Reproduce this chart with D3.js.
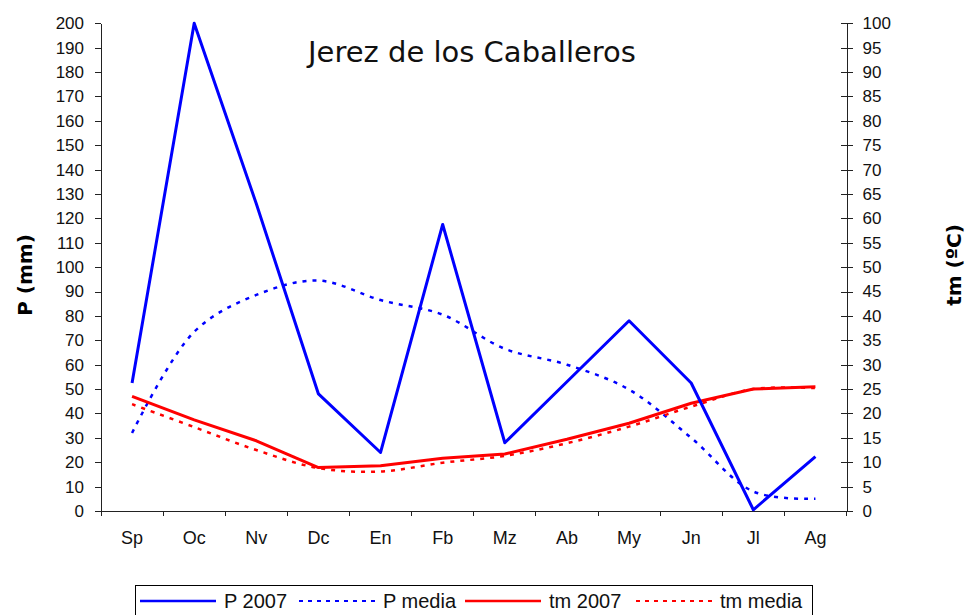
<!DOCTYPE html>
<html lang="es">
<head>
<meta charset="utf-8">
<title>Jerez de los Caballeros</title>
<style>
  body { margin: 0; background: #fff; }
  svg { display: block; font-family: "DejaVu Sans", Verdana, sans-serif; }
  .axis path, .axis line { stroke: #222; shape-rendering: crispEdges; }
  .axis text { font-size: 17px; fill: #111; }
  .xaxis text { font-size: 18px; }
  .legend text { font-family: "Liberation Sans", Arial, sans-serif; font-size: 20px; fill: #111; }
</style>
</head>
<body>
<div id="chart"></div>
<script src="https://cdn.jsdelivr.net/npm/d3@7"></script>
<script>
// months (hydrological year)
var months = ["Sp", "Oc", "Nv", "Dc", "En", "Fb", "Mz", "Ab", "My", "Jn", "Jl", "Ag"];

// precipitation, mm
var p2007  = [52.5, 200, 126, 48, 24, 117.5, 28, 53, 78, 52.5, 0.5, 22.3];
var pMedia = [32, 73.5, 88.6, 94.5, 86.5, 80.5, 66.5, 60, 49.8, 30, 8, 5];

// mean temperature, ºC
var tm2007  = [23.5, 18.7, 14.4, 8.9, 9.3, 10.8, 11.7, 14.7, 18, 22.1, 25, 25.5];
var tmMedia = [21.9, 17.2, 12.5, 8.8, 8.1, 9.9, 11.3, 13.9, 17.3, 21.4, 25, 25.2];

var pTicks = d3.range(0, 201, 10);
var tTicks = d3.range(0, 101, 5);

var width = 968, height = 615;
var plotLeft = 101, plotRight = 846.5, plotTop = 23.3, plotBottom = 511;

var svg = d3.select("#chart").append("svg")
    .attr("width", width)
    .attr("height", height);

var x = d3.scaleBand().domain(months).range([plotLeft, plotRight]);
var yP = d3.scaleLinear().domain([0, 200]).range([plotBottom, plotTop]);
var yT = d3.scaleLinear().domain([0, 100]).range([plotBottom, plotTop]);

// axes
svg.append("g")
    .attr("class", "axis")
    .attr("transform", "translate(" + plotLeft + ",0)")
    .call(d3.axisLeft(yP).tickValues(pTicks).tickSize(6).tickPadding(11).tickSizeOuter(0));

var rAxis = svg.append("g")
    .attr("class", "axis")
    .attr("transform", "translate(" + plotRight + ",0)")
    .call(d3.axisRight(yT).tickValues(tTicks).tickSize(6).tickPadding(10).tickSizeOuter(0));
rAxis.selectAll(".tick line").attr("x1", -6);

var xAxis = svg.append("g")
    .attr("class", "axis xaxis")
    .attr("transform", "translate(0," + plotBottom + ")")
    .call(d3.axisBottom(x).tickSize(0).tickPadding(20).tickSizeOuter(0));
xAxis.selectAll(".tick line").remove();
// category separators below the axis
xAxis.selectAll(".sep")
    .data(months.concat(["end"]))
  .enter().append("line")
    .attr("class", "sep")
    .attr("x1", function(d, i) { return plotLeft + i * x.step(); })
    .attr("x2", function(d, i) { return plotLeft + i * x.step(); })
    .attr("y1", 0).attr("y2", 5)
    .attr("stroke", "#222")
    .attr("shape-rendering", "crispEdges");

// series
var series = [
  { name: "P 2007",   values: p2007,   scale: yP, color: "#0000ff", dash: null,  width: 3,   smooth: false },
  { name: "P media",  values: pMedia,  scale: yP, color: "#0000ff", dash: "4,6", width: 2.5, smooth: true },
  { name: "tm 2007",  values: tm2007,  scale: yT, color: "#ff0000", dash: null,  width: 3,   smooth: false },
  { name: "tm media", values: tmMedia, scale: yT, color: "#ff0000", dash: "4,6", width: 2.5, smooth: true }
];

var cx = function(i) { return x(months[i]) + x.bandwidth() / 2; };

var drawOrder = [1, 3, 2, 0];
drawOrder.forEach(function(k) {
  var s = series[k];
  var line = d3.line()
      .x(function(d, i) { return cx(i); })
      .y(function(d) { return s.scale(d); })
      .curve(s.smooth ? d3.curveCatmullRom.alpha(0.5) : d3.curveLinear);
  svg.append("path")
      .datum(s.values)
      .attr("d", line)
      .attr("fill", "none")
      .attr("stroke", s.color)
      .attr("stroke-width", s.width)
      .attr("stroke-dasharray", s.dash)
      .attr("stroke-linejoin", "round");
});

// title and axis titles
svg.append("text")
    .attr("x", 472).attr("y", 62)
    .attr("text-anchor", "middle")
    .style("font-size", "29px")
    .attr("fill", "#111")
    .text("Jerez de los Caballeros");

svg.append("text")
    .attr("transform", "translate(32,275) rotate(-90)")
    .attr("text-anchor", "middle")
    .style("font-size", "20px")
    .style("font-weight", "bold")
    .text("P (mm)");

svg.append("text")
    .attr("transform", "translate(961,265) rotate(-90)")
    .attr("text-anchor", "middle")
    .style("font-size", "20px")
    .style("font-weight", "bold")
    .text("tm (ºC)");

// legend
var legend = svg.append("g").attr("class", "legend");
legend.append("rect")
    .attr("x", 135.5).attr("y", 585.5)
    .attr("width", 677).attr("height", 40)
    .attr("fill", "#fff")
    .attr("stroke", "#000");

var legendX = [140, 299, 465, 636];
var item = legend.selectAll(".item")
    .data(series)
  .enter().append("g")
    .attr("class", "item")
    .attr("transform", function(d, i) { return "translate(" + legendX[i] + ",601)"; });

item.append("line")
    .attr("x1", 0).attr("x2", 76)
    .attr("stroke", function(d) { return d.color; })
    .attr("stroke-width", function(d) { return d.width - 0.5; })
    .attr("stroke-dasharray", function(d) { return d.dash ? "4,5" : null; });

item.append("text")
    .attr("x", 84).attr("y", 7)
    .text(function(d) { return d.name; });
</script>
</body>
</html>
